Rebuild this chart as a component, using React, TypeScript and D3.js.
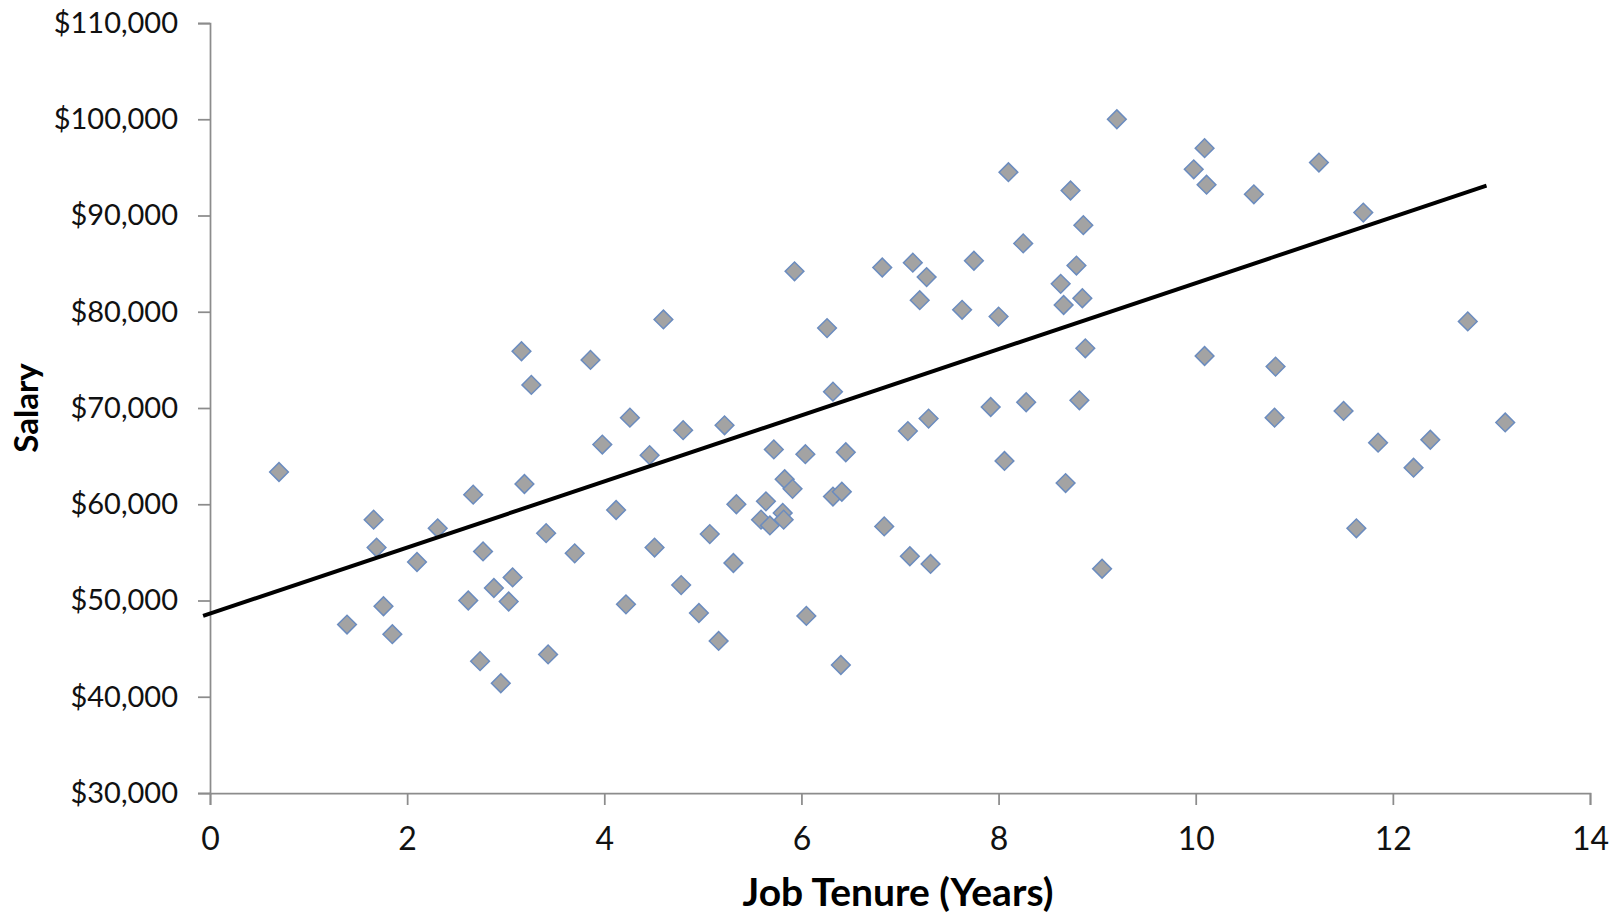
import React, { useRef, useEffect } from 'react';
import * as d3 from 'd3';

// values (years, dollars)
const tenure = [
  0.7, 1.39, 1.66, 1.69, 1.76, 1.85, 2.1, 2.31, 2.62, 2.67, 2.74, 2.77, 2.88, 2.95, 3.03, 3.07,
  3.16, 3.19, 3.26, 3.41, 3.43, 3.7, 3.86, 3.98, 4.12, 4.22, 4.26, 4.46, 4.51, 4.6, 4.78, 4.8,
  4.96, 5.07, 5.16, 5.22, 5.31, 5.34, 5.59, 5.64, 5.68, 5.72, 5.81, 5.82, 5.83, 5.91, 5.93, 6.04,
  6.05, 6.26, 6.32, 6.32, 6.4, 6.41, 6.45, 6.82, 6.84, 7.08, 7.1, 7.13, 7.2, 7.27, 7.29, 7.31,
  7.63, 7.75, 7.92, 8.0, 8.06, 8.1, 8.25, 8.28, 8.63, 8.66, 8.68, 8.73, 8.79, 8.82, 8.85, 8.86,
  8.88, 9.05, 9.2, 9.98, 10.09, 10.09, 10.11, 10.59, 10.8, 10.81, 11.25, 11.5, 11.63, 11.7, 11.85,
  12.21, 12.38, 12.76, 13.14,
];
const salary = [
  63350, 47500, 58400, 55500, 49400, 46500, 54000, 57500, 50000, 61000, 43700, 55100, 51300, 41400, 49900, 52400,
  75900, 62100, 72400, 57000, 44400, 54900, 75000, 66200, 59400, 49600, 69000, 65100, 55500, 79200, 51600, 67700,
  48700, 56900, 45800, 68200, 53900, 60000, 58400, 60300, 57800, 65700, 59100, 58400, 62600, 61600, 84200, 65200,
  48400, 78300, 71700, 60800, 43300, 61300, 65400, 84600, 57700, 67600, 54600, 85100, 81200, 83600, 68900, 53800,
  80200, 85300, 70100, 79500, 64500, 94500, 87100, 70600, 82900, 80700, 62200, 92600, 84800, 70800, 81400, 89000,
  76200, 53300, 100000, 94800, 97000, 75400, 93200, 92200, 69000, 74300, 95500, 69700, 57500, 90300, 66400,
  63800, 66700, 79000, 68500,
];

// linear trendline end points
const trendTenure = [-0.07, 12.95];
const trendSalary = [48400, 93100];

const xTicks = [0, 2, 4, 6, 8, 10, 12, 14];
const yTicks = [30000, 40000, 50000, 60000, 70000, 80000, 90000, 100000, 110000];

function App() {
  const svgRef = useRef(null);

  useEffect(() => {
    document.body.style.margin = '0';
    const w = 1619;
    const h = 915;
    const m = { left: 210, top: 23, right: 29, bottom: 122 };
    const svg = d3.select(svgRef.current).attr('width', w).attr('height', h).style('background', '#fff');
    svg.selectAll('*').remove();

    const xScale = d3.scaleLinear().domain([0, 14]).range([m.left, w - m.right]);
    const yScale = d3.scaleLinear().domain([30000, 110000]).range([h - m.bottom, m.top]);
    const font = 'Lato, "Open Sans", sans-serif';

    //axes
    const yAxis = d3
      .axisLeft(yScale)
      .tickValues(yTicks)
      .tickSize(12)
      .tickPadding(20)
      .tickFormat((d: any) => '$' + d3.format(',')(d));
    const gy = svg.append('g').attr('transform', `translate(${m.left},0)`).call(yAxis);
    gy.selectAll('text').attr('font-family', font).attr('font-size', 29).attr('fill', '#111');

    const xAxis = d3.axisBottom(xScale).tickValues(xTicks).tickSize(12).tickPadding(22);
    const gx = svg.append('g').attr('transform', `translate(0,${h - m.bottom})`).call(xAxis);
    gx.selectAll('text').attr('font-family', font).attr('font-size', 32).attr('fill', '#111');

    svg.selectAll('.domain, .tick line').attr('stroke', '#8c8c8c').attr('stroke-width', 1.75);

    //points
    const diamond = d3.symbol().type(d3.symbolSquare).size(175);
    svg
      .append('g')
      .selectAll('path')
      .data(tenure.map((t, i) => [t, salary[i]]))
      .join('path')
      .attr('d', diamond)
      .attr('transform', (d) => `translate(${xScale(d[0])},${yScale(d[1])}) rotate(45)`)
      .attr('fill', '#a3a3a3')
      .attr('stroke', '#6b8cbf')
      .attr('stroke-width', 1.5);

    //trendline
    const line = d3
      .line()
      .x((d: any) => xScale(d[0]))
      .y((d: any) => yScale(d[1]));
    svg
      .append('path')
      .datum(trendTenure.map((t, i) => [t, trendSalary[i]]))
      .attr('d', line as any)
      .attr('fill', 'none')
      .attr('stroke', '#000')
      .attr('stroke-width', 4);

    //titles
    svg
      .append('text')
      .attr('x', 898)
      .attr('y', 906)
      .attr('text-anchor', 'middle')
      .attr('font-family', font)
      .attr('font-weight', 'bold')
      .attr('font-size', 39)
      .text('Job Tenure (Years)');
    svg
      .append('text')
      .attr('transform', 'translate(38,408) rotate(-90)')
      .attr('text-anchor', 'middle')
      .attr('font-family', font)
      .attr('font-weight', 'bold')
      .attr('font-size', 33)
      .text('Salary');
  }, []);

  return (
    <div>
      <svg ref={svgRef}></svg>
    </div>
  );
}

export default App;
